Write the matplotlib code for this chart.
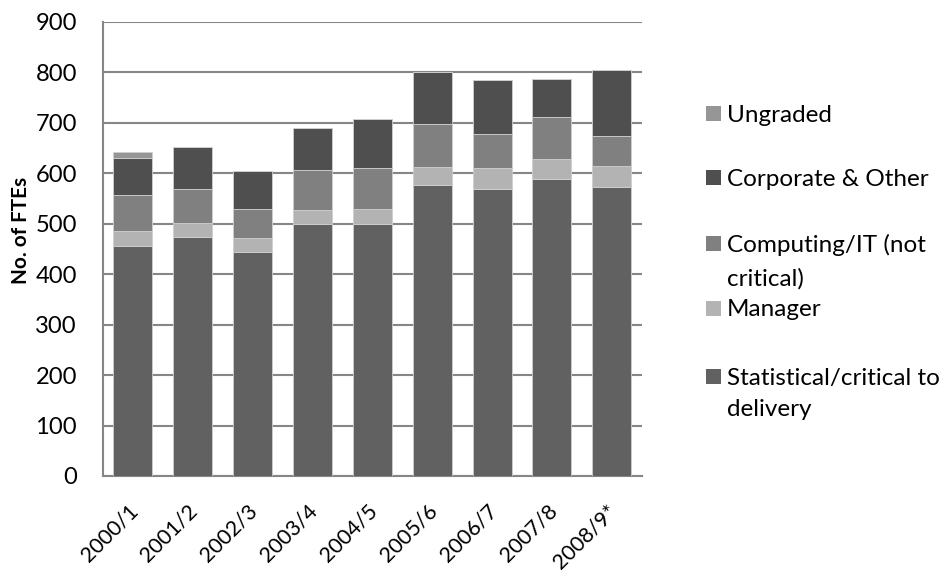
import matplotlib
matplotlib.use("Agg")
import matplotlib.pyplot as plt
from matplotlib.patches import Rectangle
from matplotlib.transforms import ScaledTranslation
import numpy as np

plt.rcParams['font.family'] = ['Lato', 'DejaVu Sans']

years = ["2000/1", "2001/2", "2002/3", "2003/4", "2004/5", "2005/6", "2006/7", "2007/8", "2008/9*"]
statistical = [455, 474, 444, 500, 500, 577, 569, 588, 573]
manager = [30, 28, 28, 28, 30, 35, 41, 40, 41]
computing = [72, 66, 58, 78, 81, 86, 67, 83, 60]
corporate = [73, 85, 74, 84, 97, 102, 109, 76, 130]
ungraded = [12, 0, 0, 0, 0, 0, 0, 0, 0]

series_names = ["Statistical/critical to delivery", "Manager", "Computing/IT (not critical)",
                "Corporate & Other", "Ungraded"]
series_values = [statistical, manager, computing, corporate, ungraded]
series_colors = ["#616161", "#b3b3b3", "#808080", "#4f4f4f", "#969696"]

W, H = 946, 577
fig = plt.figure(figsize=(W / 100, H / 100), dpi=100)
renderer = fig.canvas.get_renderer()


def fit_size(text, target_px, weight="normal"):
    t = fig.text(0, 0, text, fontsize=10, fontweight=weight)
    bb = t.get_window_extent(renderer)
    t.remove()
    return 10 * target_px / bb.width


tick_fs = fit_size("900", 41)
xlab_fs = fit_size("2000/1", 72)
legend_fs = fit_size("Corporate & Other", 202)
ylabel_fs = fit_size("No. of FTEs", 108, weight="bold")

ax = fig.add_axes([103 / W, 1 - 476 / H, (641.7 - 103) / W, (476 - 22) / H])

x = np.arange(len(years))
bottom = np.zeros(len(years))
for name, vals, col in zip(series_names, series_values, series_colors):
    ax.bar(x, vals, bottom=bottom, width=0.65, color=col, edgecolor="#cfcfcf",
           linewidth=0.6, zorder=3, label=name)
    bottom += np.array(vals)

ax.set_xlim(-0.5, len(years) - 0.5)
ax.set_ylim(0, 900)
ax.set_yticks(range(0, 901, 100))
ax.yaxis.grid(True, color="#868686", linewidth=1.5, zorder=0)
ax.set_axisbelow(True)
for s in ["top", "right"]:
    ax.spines[s].set_visible(False)
for s in ["left", "bottom"]:
    ax.spines[s].set_color("#868686")
    ax.spines[s].set_linewidth(1.5)
ax.tick_params(axis="both", length=0, colors="black")
ax.tick_params(axis="y", pad=26 * 0.72, labelsize=tick_fs)
ax.set_xticks(x)
ax.set_xticklabels(years, rotation=45, ha="right", va="baseline",
                   rotation_mode="anchor", fontsize=xlab_fs)
ax.tick_params(axis="x", pad=0)
for lbl in ax.get_xticklabels():
    lbl.set_transform(lbl.get_transform() + ScaledTranslation(6 / 100, -36 / 100, fig.dpi_scale_trans))

fig.text(20.8 / W, 1 - 230 / H, "No. of FTEs", rotation=90, fontsize=ylabel_fs,
         fontweight="bold", ha="center", va="center")

# legend (manual, matching reference layout; reversed order)
legend_rows = [
    (["Ungraded"], "#969696", [113]),
    (["Corporate & Other"], "#4f4f4f", [177]),
    (["Computing/IT (not", "critical)"], "#808080", [243, 277]),
    (["Manager"], "#b3b3b3", [308]),
    (["Statistical/critical to", "delivery"], "#616161", [376, 408]),
]
for lines, col, ys in legend_rows:
    y0 = ys[0]
    fig.patches.append(Rectangle((706 / W, 1 - (y0 + 7.5) / H), 15 / W, 15 / H,
                                 transform=fig.transFigure, facecolor=col,
                                 edgecolor="none"))
    for line, yy in zip(lines, ys):
        fig.text(727 / W, 1 - yy / H, line, fontsize=legend_fs, ha="left",
                 va="center_baseline")

fig.savefig("out.png", dpi=100)
